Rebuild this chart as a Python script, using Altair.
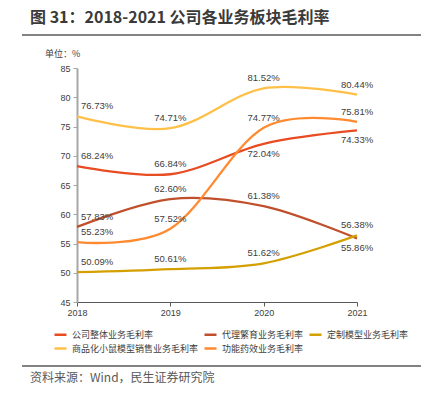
import altair as alt
import pandas as pd

years = [2018, 2019, 2020, 2021]
series_names = ["公司整体业务毛利率", "代理繁育业务毛利率", "定制模型业务毛利率",
                "商品化小鼠模型销售业务毛利率", "功能药效业务毛利率"]
overall = [68.24, 66.84, 72.04, 74.33]
breeding = [57.83, 62.60, 61.38, 55.86]
custom = [50.09, 50.61, 51.62, 56.38]
commercial = [76.73, 74.71, 81.52, 80.44]
efficacy = [55.23, 57.52, 74.77, 75.81]
colors = ["#E84C22", "#C0502B", "#D4A000", "#FFC04A", "#FF8A30"]
y_ticks = [45, 50, 55, 60, 65, 70, 75, 80, 85]
# labels drawn below their point
below = [("公司整体业务毛利率", 2020), ("公司整体业务毛利率", 2021), ("代理繁育业务毛利率", 2021)]

rows = []
for name, vals in zip(series_names, [overall, breeding, custom, commercial, efficacy]):
    for yr, v in zip(years, vals):
        pos = "below" if (name, yr) in below else "above"
        rows.append({"series": name, "year": yr, "value": v,
                     "label": f"{v:.2f}%", "pos": pos})
df = pd.DataFrame(rows)
one = pd.DataFrame({"k": [0]})

FONT = "Noto Sans CJK SC"
NUM = "Liberation Sans"

base = alt.Chart(df)
x = alt.X("year:Q", scale=alt.Scale(domain=[2018, 2021], nice=False, zero=False),
          axis=alt.Axis(values=years, format="d", title=None, grid=False,
                        domainColor="#595959", domainWidth=1, tickColor="#595959",
                        tickSize=4, labelFont=NUM, labelFontSize=9, labelColor="#404040",
                        labelPadding=2, labelOverlap=False, labelFlush=False))
y = alt.Y("value:Q", scale=alt.Scale(domain=[45, 85], nice=False, zero=False),
          axis=alt.Axis(values=y_ticks, title=None, grid=False,
                        domainColor="#A6A6A6", domainWidth=2, tickColor="#A6A6A6",
                        tickSize=4, labelFont=NUM, labelFontSize=9, labelColor="#404040",
                        labelPadding=3, labelOverlap=False, labelFlush=False))
color = alt.Color("series:N", scale=alt.Scale(domain=series_names, range=colors),
                  legend=alt.Legend(title=None, orient="none", legendX=-24, legendY=259,
                                    columns=3, direction="horizontal",
                                    symbolType="stroke", symbolSize=144, symbolStrokeWidth=2.5,
                                    labelFont=FONT, labelFontSize=9, labelColor="#404040",
                                    labelOffset=4, columnPadding=0, rowPadding=1))

lines = base.mark_line(interpolate="cardinal", strokeWidth=2.3).encode(
    x=x, y=y, color=color, order="year:Q")

def labels(filter_expr, dx, dy, align):
    return base.transform_filter(filter_expr).mark_text(
        font=NUM, fontSize=9.5, color="#404040", align=align, dx=dx, dy=dy, baseline="middle"
    ).encode(x=x, y=y, text="label:N")

lab_first_above = labels("datum.year == 2018 && datum.pos == 'above'", 4, -10, "left")
lab_above = labels("datum.year > 2018 && datum.pos == 'above'", 0, -10, "center")
lab_below = labels("datum.pos == 'below'", 0, 10, "center")

title = alt.Chart(one).mark_text(
    text="图 31：2018-2021 公司各业务板块毛利率", font=FONT, fontSize=16,
    fontWeight="bold", color="#3A3A3A", align="left", baseline="middle"
).encode(x=alt.value(-47), y=alt.value(-50))

top_rule = alt.Chart(one).mark_rule(color="#595959", strokeWidth=1.5).encode(
    x=alt.value(-55), x2=alt.value(351), y=alt.value(-33), y2=alt.value(-33))
bottom_rule = alt.Chart(one).mark_rule(color="#595959", strokeWidth=1.5).encode(
    x=alt.value(-55), x2=alt.value(351), y=alt.value(298), y2=alt.value(298))

unit = alt.Chart(one).mark_text(
    text="单位：%", font=FONT, fontSize=9, color="#404040", align="left", baseline="middle"
).encode(x=alt.value(-32), y=alt.value(-14))

source = alt.Chart(one).mark_text(
    text="资料来源：Wind，民生证券研究院", font=FONT, fontSize=12, color="#595959",
    align="left", baseline="middle"
).encode(x=alt.value(-47), y=alt.value(310))

chart = alt.layer(
    lines, lab_first_above, lab_above, lab_below, title, top_rule, bottom_rule, unit, source
).properties(
    width=280, height=234,
    autosize=alt.AutoSizeParams(type="none"),
    padding={"left": 69, "top": 60, "right": 64, "bottom": 87},
    background="white",
).configure_view(stroke=None)

chart.save("out.html", embed_options={"renderer": "svg", "actions": False})
